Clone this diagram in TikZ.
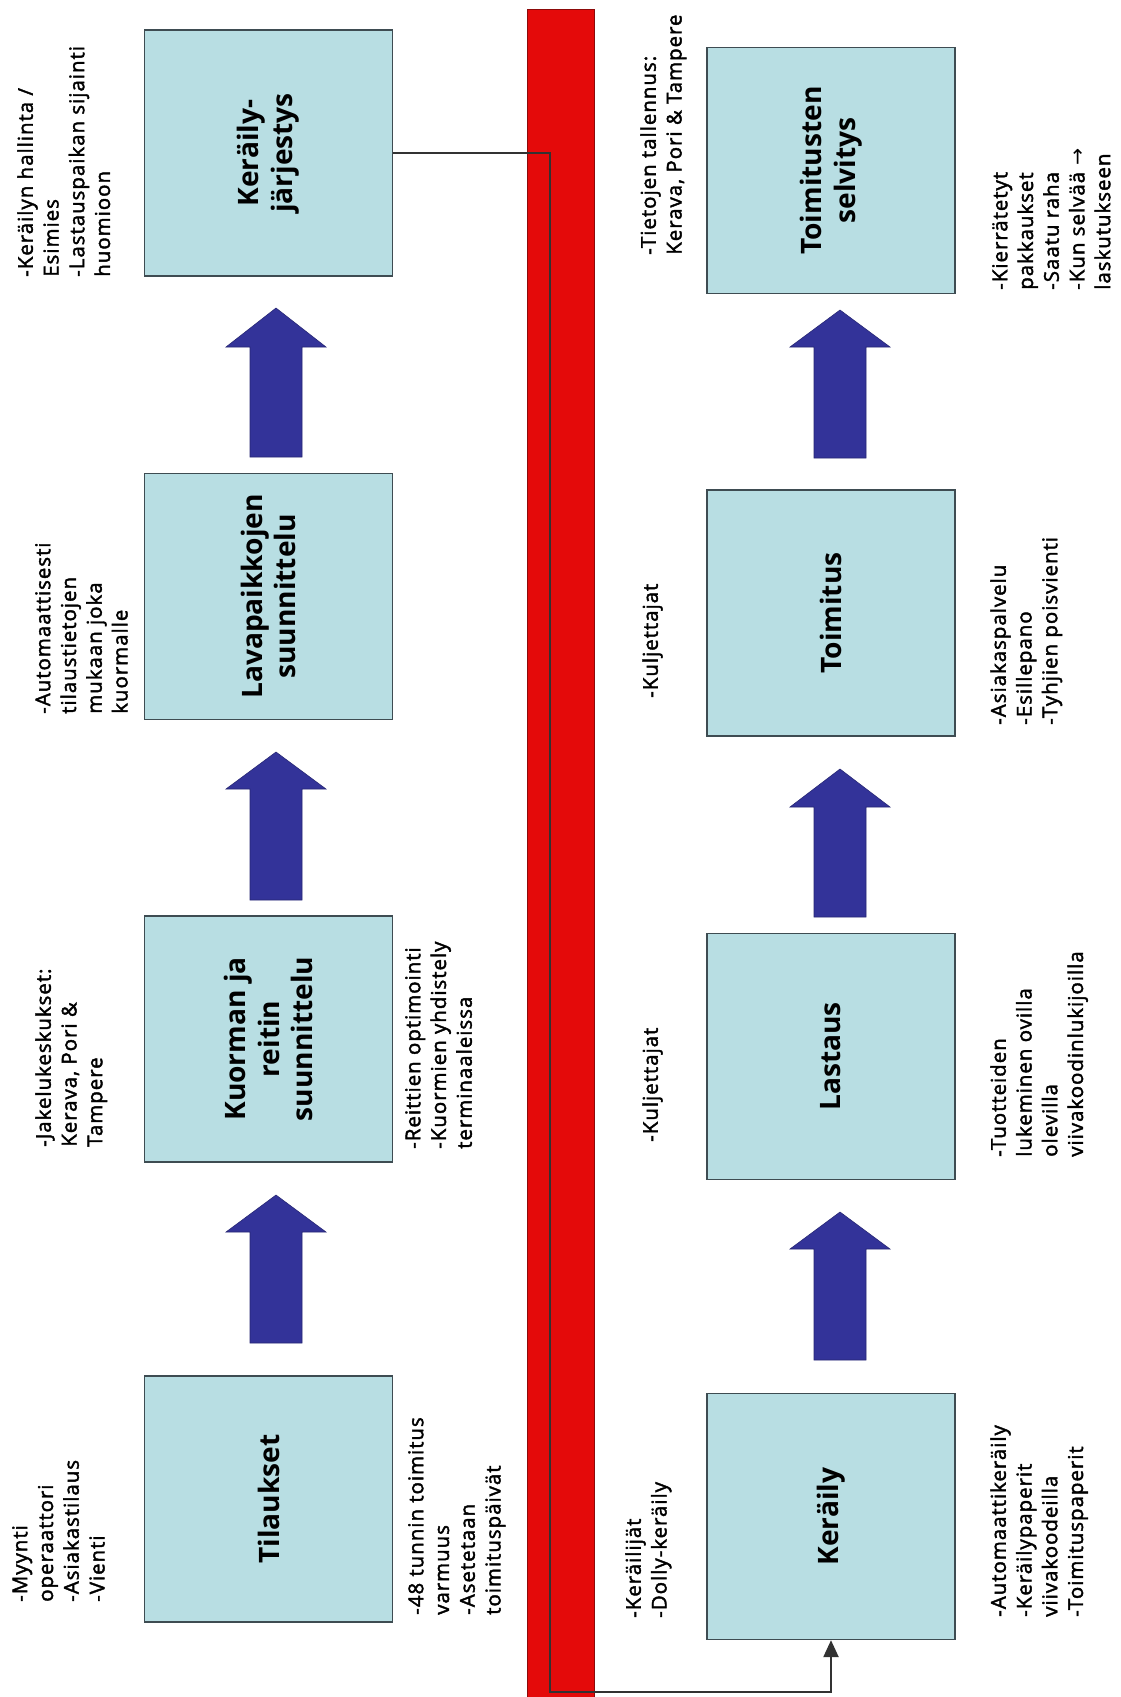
\documentclass[tikz,border=0pt]{standalone}
\usepackage{fontspec}
\setmainfont{Open Sans}
\newfontfamily\notefont{Open Sans}[LetterSpace=5, FakeBold=2]
\newfontfamily\symfont{DejaVu Sans}
\usetikzlibrary{arrows.meta}

\definecolor{boxfill}{RGB}{184,222,227}
\definecolor{boxline}{RGB}{62,76,82}
\definecolor{flowblue}{RGB}{51,51,153}
\definecolor{barred}{RGB}{228,10,10}
\definecolor{bardark}{RGB}{140,10,10}
\definecolor{linkgray}{RGB}{50,50,50}

\begin{document}
\begin{tikzpicture}[x=0.025cm, y=-0.025cm,
    stage/.style={draw=boxline, line width=1pt, fill=boxfill, rotate=90, minimum width=6.15cm, minimum height=6.2cm, align=center, font=\fontsize{20}{24}\selectfont\bfseries},
    note/.style={rotate=90, anchor=north west, inner sep=0pt, align=left, font=\notefont\fontsize{14.5}{18.3}\selectfont},
    flow/.style={fill=flowblue, draw=flowblue!75!black, line width=0.4pt},
    link/.style={draw=linkgray, line width=0.9pt}]
    \fill[white] (0,0) rectangle (1120,1697);
    \useasboundingbox (0,0) rectangle (1120,1697);

    % red divider
    \fill[barred, draw=bardark, line width=0.6pt] (527,9) rectangle (594,1700);

    % left column
    \node[stage] (jarjestys) at (268.5,153) {Keräily-\\järjestys};
    \node[stage] (lavat) at (268.5,596.5) {Lavapaikkojen\\suunnittelu};
    \node[stage] (kuorma) at (268.5,1039) {Kuorman ja\\reitin\\suunnittelu};
    \node[stage] (tilaukset) at (268.5,1499) {Tilaukset};

    % right column
    \node[stage] (selvitys) at (831,170.5) {Toimitusten\\selvitys};
    \node[stage] (toimitus) at (831,613) {Toimitus};
    \node[stage] (lastaus) at (831,1056.5) {Lastaus};
    \node[stage] (keraily) at (831,1516.5) {Keräily};

    % block arrows
    \foreach \cx/\tip/\hb/\bot in {276/308/347/457, 276/752/789/900, 276/1195/1232/1343, 840/310/347/458, 840/769/807/917, 840/1212/1249/1360}
        \draw[flow] (\cx-26,\bot) -- (\cx-26,\hb) -- (\cx-50,\hb) -- (\cx,\tip) -- (\cx+50,\hb) -- (\cx+26,\hb) -- (\cx+26,\bot) -- cycle;

    % notes, left column
    \node[note] (jarjestysnote) at (17,277) {-Keräilyn hallinta /\\Esimies\\-Lastauspaikan sijainti\\huomioon};
    \node[note] (lavatnote) at (35,714) {-Automaattisesti\\tilaustietojen\\mukaan joka\\kuormalle};
    \node[note] (kuormanote) at (35,1147) {-Jakelukeskukset:\\Kerava, Pori \&\\Tampere};
    \node[note] (kuormainfo) at (405,1149) {-Reittien optimointi\\-Kuormien yhdistely\\terminaaleissa};
    \node[note] (tilausnote) at (12,1602) {-Myynti\\operaattori\\-Asiakastilaus\\-Vienti};
    \node[note] (tilausinfo) at (408,1615) {-48 tunnin toimitus\\varmuus\\-Asetetaan\\toimituspäivät};

    % notes, right column
    \node[note] (selvitysnote) at (640,255) {-Tietojen tallennus:\\Kerava, Pori \& Tampere};
    \node[note] (selvitysinfo) at (992,290) {-Kierrätetyt\\pakkaukset\\-Saatu raha\\-Kun selvää {\symfont →}\\laskutukseen};
    \node[note] (toimitusnote) at (642,698) {-Kuljettajat};
    \node[note] (toimitusinfo) at (990,725) {-Asiakaspalvelu\\-Esillepano\\-Tyhjien poisvienti};
    \node[note] (lastausnote) at (642,1142) {-Kuljettajat};
    \node[note] (lastausinfo) at (990,1157) {-Tuotteiden\\lukeminen ovilla\\olevilla\\viivakoodinlukijoilla};
    \node[note] (kerailynote) at (625,1618) {-Keräilijät\\-Dolly-keräily};
    \node[note] (kerailyinfo) at (990,1617) {-Automaattikeräily\\-Keräilypaperit\\viivakoodeilla\\-Toimituspaperit};

    % feedback line across the divider
    \coordinate (bottomturn) at (550,1692);
    \draw[link, -{Triangle[length=4.2mm, width=3.8mm]}] (jarjestys.south) -| (bottomturn) -| (keraily.west);
\end{tikzpicture}
\end{document}
